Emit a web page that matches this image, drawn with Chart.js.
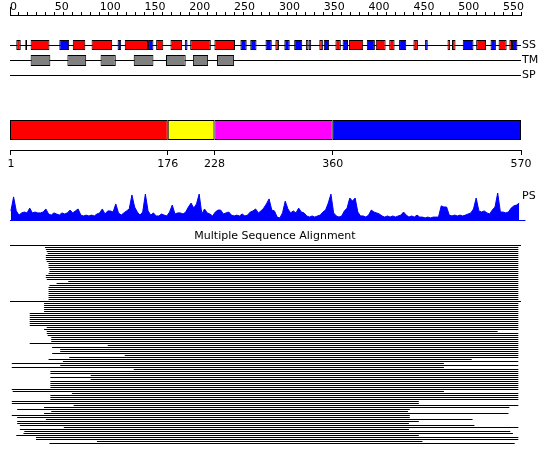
<!DOCTYPE html>
<html>
<head>
<meta charset="utf-8">
<script src="https://cdn.jsdelivr.net/npm/chart.js@4"></script>
<style>
  html, body { margin: 0; padding: 0; background: #fff; }
  canvas { display: block; }
</style>
</head>
<body>
<canvas id="chart" width="550" height="465"></canvas>
<script>
// sequence length and ruler
const seqLength = 570;
const rulerStep = 10;
const rulerLabelStep = 50;

// secondary structure, first / last residue
const helixStart = [8, 24, 71, 92, 129, 164, 180, 202, 229, 297, 331, 346, 364, 379, 409, 424, 451, 489, 494, 521, 546, 558];
const helixEnd = [12, 44, 84, 114, 154, 171, 192, 224, 251, 300, 333, 349, 369, 394, 419, 429, 455, 491, 497, 531, 554, 560];
const strandStart = [18, 56, 121, 155, 196, 258, 269, 286, 307, 318, 334, 351, 372, 399, 435, 464, 506, 537, 561];
const strandEnd = [19, 66, 124, 160, 198, 264, 275, 292, 312, 326, 336, 356, 377, 407, 442, 466, 517, 542, 566];

// transmembrane segments
const tmStart = [24, 65, 102, 139, 175, 205, 232];
const tmEnd = [45, 85, 118, 160, 196, 221, 250];

// domain boundaries
const domainBounds = [1, 176, 228, 360, 570];
const domainColors = ['#ff0000', '#ffff00', '#ff00ff', '#0000ff'];

const trackLabels = ['SS', 'TM', 'SP', 'PS'];
const alnTitle = 'Multiple Sequence Alignment';

// PS profile, sampled every 3 residues from residue 1
const psScore = [
  0.36, 0.86, 0.36, 0.21, 0.29, 0.32, 0.29, 0.46, 0.29, 0.32,
  0.29, 0.29, 0.32, 0.43, 0.25, 0.21, 0.29, 0.25, 0.21, 0.29,
  0.25, 0.29, 0.39, 0.29, 0.36, 0.43, 0.21, 0.18, 0.21, 0.18,
  0.21, 0.18, 0.25, 0.29, 0.43, 0.25, 0.36, 0.36, 0.32, 0.61,
  0.29, 0.21, 0.29, 0.36, 0.43, 0.93, 0.5, 0.32, 0.21, 0.32,
  0.96, 0.36, 0.21, 0.29, 0.18, 0.18, 0.25, 0.21, 0.18, 0.32,
  0.57, 0.25, 0.29, 0.29, 0.25, 0.32, 0.5, 0.64, 0.46, 0.61,
  0.96, 0.25, 0.43, 0.29, 0.25, 0.18, 0.32, 0.39, 0.39, 0.25,
  0.29, 0.32, 0.21, 0.18, 0.21, 0.18, 0.25, 0.18, 0.21, 0.32,
  0.36, 0.43, 0.29, 0.36, 0.46, 0.61, 0.79, 0.39, 0.36, 0.14,
  0.11, 0.29, 0.71, 0.43, 0.29, 0.36, 0.29, 0.46, 0.32, 0.29,
  0.18, 0.14, 0.18, 0.14, 0.18, 0.21, 0.32, 0.39, 0.64, 0.96,
  0.29, 0.18, 0.14, 0.18, 0.36, 0.46, 0.82, 0.71, 0.82, 0.32,
  0.18, 0.18, 0.14, 0.21, 0.39, 0.32, 0.29, 0.25, 0.18, 0.14,
  0.18, 0.14, 0.18, 0.14, 0.18, 0.21, 0.32, 0.21, 0.14, 0.18,
  0.14, 0.21, 0.14, 0.14, 0.11, 0.14, 0.11, 0.14, 0.14, 0.14,
  0.54, 0.5, 0.5, 0.21, 0.18, 0.21, 0.18, 0.21, 0.18, 0.21,
  0.25, 0.29, 0.43, 0.82, 0.36, 0.32, 0.36, 0.29, 0.25, 0.39,
  0.5, 1.0, 0.32, 0.32, 0.29, 0.32, 0.46, 0.54, 0.57, 0.64
];

// alignment hits, first / last aligned residue
const alnStart = [
  1, 40, 41, 42, 43, 41, 41, 41, 42, 44,
  44, 44, 45, 45, 44, 41, 41, 42, 66, 53,
  45, 44, 44, 44, 44, 44, 44, 44, 1, 39,
  39, 39, 39, 39, 23, 23, 23, 23, 23, 23,
  23, 42, 39, 42, 42, 43, 47, 47, 47, 23,
  110, 48, 57, 57, 48, 129, 67, 44, 60, 3,
  57, 3, 139, 46, 46, 91, 46, 91, 46, 46,
  46, 46, 3, 4, 70, 46, 46, 46, 3, 3,
  72, 39, 9, 47, 39, 3, 9, 41, 9, 9,
  12, 61, 12, 17, 16, 8, 30, 30, 98, 45
];
const alnEnd = [
  570, 567, 567, 567, 567, 567, 567, 567, 567, 567,
  567, 567, 567, 567, 567, 567, 567, 567, 567, 567,
  567, 567, 567, 567, 567, 567, 567, 567, 570, 567,
  567, 567, 567, 567, 567, 567, 567, 567, 567, 567,
  567, 567, 567, 544, 567, 567, 567, 567, 567, 567,
  567, 567, 567, 567, 567, 567, 567, 515, 567, 484,
  567, 484, 567, 567, 567, 567, 567, 567, 567, 567,
  567, 567, 567, 484, 567, 567, 567, 567, 456, 456,
  567, 557, 446, 444, 556, 446, 446, 516, 456, 445,
  518, 567, 445, 558, 561, 456, 567, 567, 460, 563
];

// page layout (pixel rows)
const W = 550, H = 465;
const rows = {
  ruler: 15, ss: 45, ssLine: 45.5, tm: 60.5, sp: 75.5,
  domain: 130, domainAxis: 150,
  psBase: 221, psHeight: 28, psLabel: 196,
  title: 236, aln: 245.5, alnPitch: 2
};

Chart.defaults.font.family = '"DejaVu Sans", sans-serif';
Chart.defaults.font.size = 11;
Chart.defaults.color = '#000';

function bars(data, yAxisID, thickness, color, border, order) {
  return {
    type: 'bar', data, xAxisID: 'x', yAxisID, order,
    barThickness: thickness, maxBarThickness: thickness,
    backgroundColor: color, borderColor: '#000', borderWidth: border ? 1 : 0,
    borderSkipped: false, grouped: false, inflateAmount: 0,
    categoryPercentage: 1, barPercentage: 1
  };
}

const helixData = helixStart.map((s, i) => ({ x: [s - 1, helixEnd[i]], y: rows.ss }));
const strandData = strandStart.map((s, i) => ({ x: [s - 1, strandEnd[i]], y: rows.ss }));
const tmData = tmStart.map((s, i) => ({ x: [s - 1, tmEnd[i]], y: rows.tm }));
const domainData = domainColors.map((c, i) => ({ x: [i === 0 ? 0 : domainBounds[i], domainBounds[i + 1]], y: rows.domain }));
const lineData = [rows.ssLine, rows.tm, rows.sp].map(y => ({ x: [0, seqLength], y }));
const alnData = alnStart.map((s, i) => ({ x: [s - 1, alnEnd[i]], y: rows.aln + rows.alnPitch * i }));
const psData = psScore.map((v, i) => ({ x: 1 + 3 * i, y: v }));

const psBaseline = bars([{ x: [0, seqLength + 5], y: rows.psBase - 0.5 }], 'yLine', 1, '#0000ff', false, 2);
psBaseline.clip = false;

const datasets = [
  bars(helixData, 'yBox', 10, '#ff0000', true, 0),
  bars(strandData, 'yBox', 10, '#0000ff', true, 0),
  bars(tmData, 'yBox', 11, '#808080', true, 0),
  bars(domainData, 'yDom', 20, domainColors, true, 0),
  bars(lineData, 'yLine', 1, '#000', false, 2),
  bars(alnData, 'yAln', 1, '#000', false, 1),
  psBaseline,
  {
    type: 'line', indexAxis: 'x', data: psData, xAxisID: 'x', yAxisID: 'yp', order: 1,
    borderColor: '#0000ff', backgroundColor: '#0000ff', borderWidth: 1,
    pointRadius: 0, tension: 0, fill: 'origin'
  }
];

const hiddenY = () => ({
  type: 'linear', min: 0, max: H, reverse: true, display: false, offset: false,
  ticks: { stepSize: H }
});

const psMax = rows.psBase / rows.psHeight;

const titlePlugin = {
  id: 'alnTitle',
  afterDraw(chart) {
    const ctx = chart.ctx;
    ctx.save();
    ctx.font = '11px "DejaVu Sans", sans-serif';
    ctx.fillStyle = '#000';
    ctx.textAlign = 'center';
    ctx.textBaseline = 'middle';
    ctx.fillText(alnTitle, chart.width / 2, rows.title);
    ctx.restore();
  }
};

new Chart(document.getElementById('chart'), {
  type: 'bar',
  data: { datasets },
  options: {
    responsive: false,
    animation: false,
    events: [],
    indexAxis: 'y',
    layout: { padding: { left: 10, right: 0, top: 0, bottom: 0 } },
    plugins: { legend: { display: false }, tooltip: { enabled: false } },
    scales: {
      x: { type: 'linear', min: 0, max: seqLength, display: false },
      y: hiddenY(),
      yBox: hiddenY(),
      yDom: hiddenY(),
      yLine: hiddenY(),
      yAln: hiddenY(),
      yp: { type: 'linear', min: psMax - H / rows.psHeight, max: psMax, display: false, offset: false },
      yLab: {
        type: 'linear', position: 'right', min: 0, max: H, reverse: true, offset: false,
        grid: { display: false, drawTicks: false },
        border: { display: false },
        afterBuildTicks: s => { s.ticks = [rows.ssLine, rows.tm, rows.sp, rows.psLabel].map(v => ({ value: v })); },
        afterFit: s => { s.width = 29; s.paddingTop = 0; s.paddingBottom = 0; },
        ticks: { padding: 1, autoSkip: false, callback: (v, i) => trackLabels[i] }
      },
      xRuler: {
        type: 'linear', min: 0, max: seqLength, position: { y: rows.ruler },
        grid: { drawOnChartArea: false, tickLength: -4, color: '#000' },
        border: { display: true, color: '#000' },
        ticks: {
          stepSize: rulerStep, autoSkip: false, maxRotation: 0, align: 'start', padding: -10,
          callback: v => (v % rulerLabelStep === 0 ? String(v) : '')
        }
      },
      xRulerStart: {
        type: 'linear', min: 0, max: seqLength, position: { y: rows.ruler },
        afterBuildTicks: s => { s.ticks = [{ value: 0 }]; },
        grid: { drawOnChartArea: false, tickLength: -8, color: '#000' },
        border: { display: false },
        ticks: { display: false }
      },
      xDom: {
        type: 'linear', min: 0, max: seqLength, position: { y: rows.domainAxis },
        afterBuildTicks: s => { s.ticks = domainBounds.map(v => ({ value: v })); },
        grid: { drawOnChartArea: false, tickLength: 4, color: '#000' },
        border: { display: true, color: '#000' },
        ticks: { autoSkip: false, maxRotation: 0, padding: 4, callback: v => String(v) }
      }
    }
  },
  plugins: [titlePlugin]
});
</script>
</body>
</html>
